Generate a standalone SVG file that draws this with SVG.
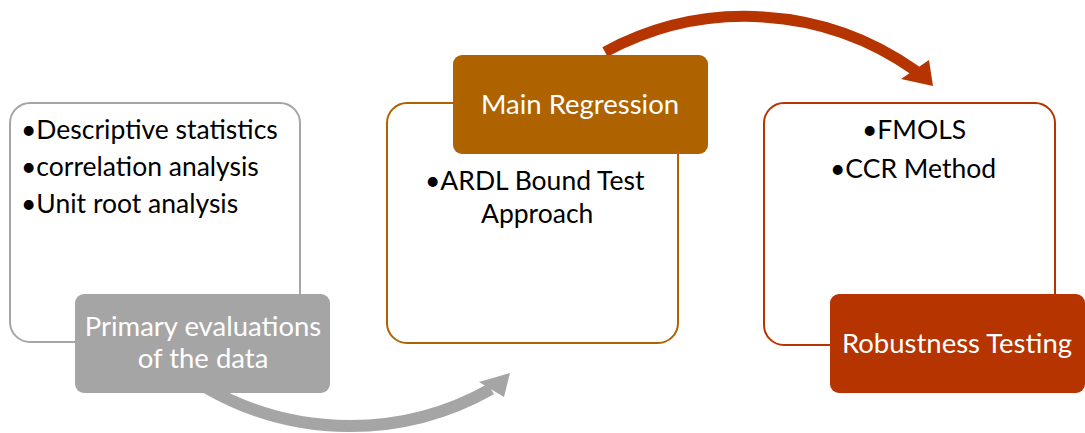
<svg xmlns="http://www.w3.org/2000/svg" width="1085" height="433" viewBox="0 0 1085 433">
<style>
.frame{fill:#fff;stroke-width:2}
.body{font-family:Lato,"Open Sans","Liberation Sans",sans-serif;font-size:26.5px;fill:#000}
.title{font-family:Lato,"Open Sans","Liberation Sans",sans-serif;font-size:27.5px;fill:#fff;text-anchor:middle}
</style>
<rect width="1085" height="433" fill="#fff"/>
<g id="connectors">
  <path d="M 207 388 A 287 287 0 0 0 491 389" fill="none" stroke="#a5a5a5" stroke-width="12"/>
  <polygon points="510,373 479,382 504,397" fill="#a5a5a5"/>
  <path d="M 605 52 A 294 294 0 0 1 916 71" fill="none" stroke="#b53400" stroke-width="11"/>
  <polygon points="933,86 901,79 929,60" fill="#b53400"/>
</g>
<g id="node-primary">
  <rect class="frame" x="10" y="103" width="290" height="239" rx="20" stroke="#a5a5a5"/>
  <text class="body" x="21" y="139">•Descriptive statistics</text>
  <text class="body" x="21" y="176">•correlation analysis</text>
  <text class="body" x="21" y="213">•Unit root analysis</text>
  <rect x="75" y="294" width="255" height="99" rx="9" fill="#a5a5a5"/>
  <text class="title" x="203" y="336">Primary evaluations</text>
  <text class="title" x="203" y="368">of the data</text>
</g>
<g id="node-main">
  <rect class="frame" x="387" y="103" width="291" height="240" rx="20" stroke="#ae6300"/>
  <text class="body" x="425" y="190">•ARDL Bound Test</text>
  <text class="body" x="481" y="223">Approach</text>
  <rect x="453" y="55" width="255" height="99" rx="9" fill="#ae6300"/>
  <text class="title" x="580" y="114">Main Regression</text>
</g>
<g id="node-robust">
  <rect class="frame" x="764" y="103" width="291" height="242" rx="20" stroke="#b53400"/>
  <text class="body" x="862" y="139">•FMOLS</text>
  <text class="body" x="830" y="178">•CCR Method</text>
  <rect x="830" y="294" width="255" height="99" rx="9" fill="#b53400"/>
  <text class="title" x="957" y="353">Robustness Testing</text>
</g>
</svg>
